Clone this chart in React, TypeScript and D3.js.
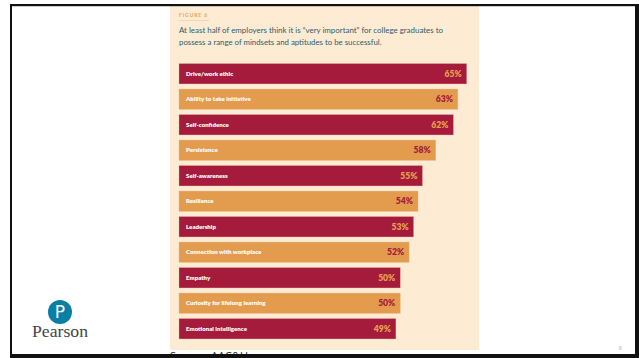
import React from "react";
import * as d3 from "d3";

const categories = [
  "Drive/work ethic",
  "Ability to take initiative",
  "Self-confidence",
  "Persistence",
  "Self-awareness",
  "Resilience",
  "Leadership",
  "Connection with workplace",
  "Empathy",
  "Curiosity for lifelong learning",
  "Emotional intelligence",
];
const values = [65, 63, 62, 58, 55, 54, 53, 52, 50, 50, 49];
const titleLines = [
  "At least half of employers think it is \u201cvery important\u201d for college graduates to",
  "possess a range of mindsets and aptitudes to be successful.",
];

const W = 639;
const H = 358;
const CRIMSON = "#a51b3b";
const ORANGE = "#e39c4e";

export default function App() {
  const x = d3.scaleLinear().domain([0, 65]).range([179, 466.7]);
  const y = d3
    .scaleBand<string>()
    .domain(categories)
    .range([61, 341.5])
    .paddingInner(0.2)
    .paddingOuter(0.1);

  return (
    <div style={{ position: "absolute", left: 0, top: 0 }}>
      <svg width={W} height={H} style={{ display: "block", background: "#fff" }}>
        {/* cream panel */}
        <rect x={170} y={6} width={309} height={344} fill="#fdebd3" />
        <text x={179} y={17} fontFamily="Lato, sans-serif" fontWeight={700} fontSize={5} letterSpacing={0.9} fill="#e8a25c">
          FIGURE 6
        </text>
        <line x1={179} x2={209} y1={20.5} y2={20.5} stroke="#f1c79a" strokeWidth={0.6} />
        {titleLines.map((t, i) => (
          <text
            key={i}
            x={179}
            y={33 + i * 11.5}
            fontFamily="Lato, sans-serif"
            fontSize={8}
            fill="#2f5c68"
            textLength={i === 0 ? 264 : 202.5}
            lengthAdjust="spacingAndGlyphs"
          >
            {t}
          </text>
        ))}
        {categories.map((c, i) => {
          const fill = i % 2 === 0 ? CRIMSON : ORANGE;
          const valColor = i % 2 === 0 ? "#e8a050" : "#a51b3b";
          const y0 = y(c)!;
          const bh = y.bandwidth();
          return (
            <g key={c}>
              <rect x={x(0)} y={y0} width={x(values[i]) - x(0)} height={bh} fill={fill} stroke="#f3b9a0" strokeOpacity={0.5} strokeWidth={0.6} />
              <text x={x(0) + 7} y={y0 + bh / 2} dy="0.35em" fontFamily="Lato, sans-serif" fontWeight={800} fontSize={6.1} fill="#fff">
                {c}
              </text>
              <text
                x={x(values[i]) - 5}
                y={y0 + bh / 2}
                dy="0.36em"
                textAnchor="end"
                fontFamily="Lato, sans-serif"
                fontWeight={800}
                fontSize={8.6}
                fill={valColor}
              >
                {values[i]}%
              </text>
            </g>
          );
        })}
        {/* source text, partially hidden */}
        <text x={170} y={360} fontFamily="'Open Sans', sans-serif" fontSize={11} fill="#222">
          Source:  AAC&amp;U
        </text>
        {/* Pearson logo */}
        <circle cx={60} cy={312} r={12} fill="#0a7fa5" />
        <text x={60} y={312} dy="0.36em" textAnchor="middle" fontFamily="'DejaVu Sans', sans-serif" fontSize={17} fill="#fff">
          P
        </text>
        <text x={60} y={337} textAnchor="middle" fontFamily="'Liberation Serif', 'DejaVu Serif', serif" fontSize={17} fill="#444" textLength={56} lengthAdjust="spacingAndGlyphs">
          Pearson
        </text>
        {/* page number */}
        <text x={619} y={350} fontFamily="'Open Sans', sans-serif" fontSize={4.5} fill="#999">
          8
        </text>
        {/* slide frame */}
        <rect x={0} y={0} width={W} height={4} fill="#fff" />
        <rect x={10} y={4} width={629} height={2.2} fill="#111" />
        <rect x={10} y={4} width={2} height={352} fill="#111" />
        <rect x={635} y={4} width={4} height={352} fill="#111" />
        <rect x={10} y={354} width={629} height={4} fill="#111" />
      </svg>
    </div>
  );
}
